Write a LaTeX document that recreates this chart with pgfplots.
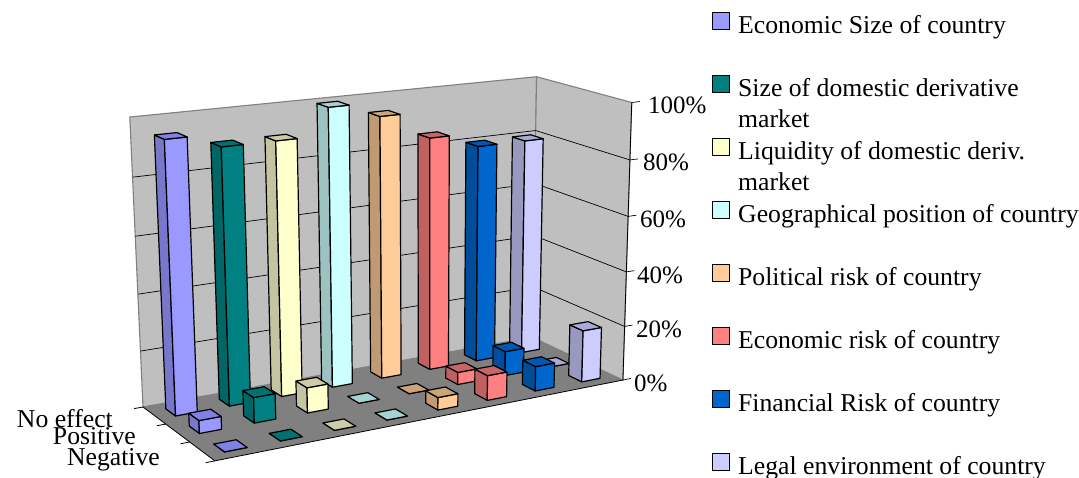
\documentclass[border=0pt]{standalone}
\usepackage{fontspec}
\setmainfont{Liberation Serif}
\usepackage{pgfplots}
\pgfplotsset{compat=1.18}

% Face colours of the eight factors: front, side, top
\definecolor{s1f}{HTML}{9999FF}\definecolor{s1s}{HTML}{7777CC}\definecolor{s1t}{HTML}{8080E6}
\definecolor{s2f}{HTML}{008080}\definecolor{s2s}{HTML}{006666}\definecolor{s2t}{HTML}{007070}
\definecolor{s3f}{HTML}{FFFFCC}\definecolor{s3s}{HTML}{C4C4A0}\definecolor{s3t}{HTML}{CCCCA6}
\definecolor{s4f}{HTML}{CCFFFF}\definecolor{s4s}{HTML}{9CC2C2}\definecolor{s4t}{HTML}{A6D2D2}
\definecolor{s5f}{HTML}{FFCC99}\definecolor{s5s}{HTML}{C09A73}\definecolor{s5t}{HTML}{CCA37A}
\definecolor{s6f}{HTML}{FF8080}\definecolor{s6s}{HTML}{C06060}\definecolor{s6t}{HTML}{C86666}
\definecolor{s7f}{HTML}{0066CC}\definecolor{s7s}{HTML}{004D99}\definecolor{s7t}{HTML}{0058B0}
\definecolor{s8f}{HTML}{CCCCFF}\definecolor{s8s}{HTML}{9999C0}\definecolor{s8t}{HTML}{AAAAD8}

% One column: #1 factor index, #2 row (0 back .. 2 front), #3 percentage, #4 colour prefix
\newcommand{\barx}[3]{px((#1+0.5+(2*\thisrow{a}-1)*0.2)/8,(#2+0.5+(2*\thisrow{b}-1)*0.21)/3,#3*\thisrow{c})}
\newcommand{\bary}[3]{py((#1+0.5+(2*\thisrow{a}-1)*0.2)/8,(#2+0.5+(2*\thisrow{b}-1)*0.21)/3,#3*\thisrow{c})}
\newcommand{\barcolumn}[4]{%
  \addplot[forget plot,draw=black,line width=1.2pt,line join=round,fill=#4s]
    table[row sep=\\,x expr={\barx{#1}{#2}{#3}},y expr={\bary{#1}{#2}{#3}}]
    {a b c\\0 0 0\\0 1 0\\0 1 1\\0 0 1\\} -- cycle;
  \addplot[forget plot,draw=black,line width=1.2pt,line join=round,fill=#4f]
    table[row sep=\\,x expr={\barx{#1}{#2}{#3}},y expr={\bary{#1}{#2}{#3}}]
    {a b c\\0 1 0\\1 1 0\\1 1 1\\0 1 1\\} -- cycle;
  \addplot[forget plot,draw=black,line width=1.2pt,line join=round,fill=#4t]
    table[row sep=\\,x expr={\barx{#1}{#2}{#3}},y expr={\bary{#1}{#2}{#3}}]
    {a b c\\0 0 1\\1 0 1\\1 1 1\\0 1 1\\} -- cycle;
}
% A line or polygon given in chart coordinates (u across, v in depth, w percentage)
\newcommand{\chartpath}[2]{%
  \addplot[forget plot,#1]
    table[row sep=\\,x expr={px(\thisrow{u},\thisrow{v},\thisrow{w})},y expr={py(\thisrow{u},\thisrow{v},\thisrow{w})}]
    {u v w\\#2};
}
\newcommand{\gridlevel}[1]{%
  \chartpath{draw=black,line width=0.7pt}{0 0 #1\\1 0 #1\\1 1 #1\\1.022 1 #1\\}
}
% Legend text hangs from the line of its swatch, whatever the number of lines
\newcommand{\legendtext}[1]{\hspace{8pt}\smash{\raisebox{-2pt}{\parbox[t]{345pt}{#1}}}}

\begin{document}
\begin{tikzpicture}
\useasboundingbox (0,0) rectangle (1079pt,477pt);
\begin{axis}[
  at={(0,0)},anchor=south west,
  scale only axis,width=1079pt,height=477pt,
  xmin=0,xmax=1079,ymin=0,ymax=477,y dir=reverse,
  hide axis,clip=false,
  declare function={
    den(\p,\q,\r)=1+0.12*\p-0.073*\q-0.000447*\r;
    px(\p,\q,\r)=(143+453*\p+56.2*\q-0.19*\r)/den(\p,\q,\r);
    py(\p,\q,\r)=(407-29.3*\p+20.2*\q-2.952*\r)/den(\p,\q,\r);
  },
  legend image code/.code={\draw[#1,draw=black,line width=1.2pt] (0pt,3pt) rectangle (17pt,20pt);},
  legend style={
    at={(axis cs:712,12)},anchor=north west,draw=none,fill=none,inner sep=0pt,outer sep=0pt,
    font=\fontsize{25.7}{31}\selectfont,
    nodes={inner sep=0pt,outer sep=0pt},
    row sep=41.6pt,
  },
  legend cell align=left,
]
% walls and floor
\chartpath{fill=black!25,draw=black!50,line width=1.1pt}{0 0 0\\1 0 0\\1 0 100\\0 0 100\\0 0 0\\}
\chartpath{fill=black!25,draw=black!50,line width=1.1pt}{1 0 0\\1 1 0\\1 1 100\\1 0 100\\1 0 0\\}
\chartpath{fill=black!50,draw=none}{0 0 0\\1 0 0\\1 1 0\\0 1 0\\0 0 0\\}
\gridlevel{20}\gridlevel{40}\gridlevel{60}\gridlevel{80}
\chartpath{draw=black,line width=0.7pt}{1 1 100\\1.022 1 100\\}
\chartpath{draw=black,line width=0.7pt}{1 1 0\\1.022 1 0\\}
% axis edges and depth ticks
\chartpath{draw=black,line width=0.8pt}{-0.02 0 0\\0 0 0\\0 1 0\\1 1 0\\1 1 100\\}
\chartpath{draw=black,line width=0.8pt}{-0.02 0.3333 0\\0 0.3333 0\\}
\chartpath{draw=black,line width=0.8pt}{-0.02 0.6667 0\\0 0.6667 0\\}
\chartpath{draw=black,line width=0.8pt}{-0.02 1 0\\0 1 0\\}

% row "No effect"
\barcolumn{7}{0}{80}{s8}
\barcolumn{6}{0}{80}{s7}
\barcolumn{5}{0}{85}{s6}
\barcolumn{4}{0}{94.5}{s5}
\barcolumn{3}{0}{99.5}{s4}
\barcolumn{2}{0}{90}{s3}
\barcolumn{1}{0}{90}{s2}
\barcolumn{0}{0}{94.5}{s1}
% row "Positive"
\barcolumn{7}{1}{0}{s8}
\barcolumn{6}{1}{9}{s7}
\barcolumn{5}{1}{4.5}{s6}
\barcolumn{4}{1}{0}{s5}
\barcolumn{3}{1}{0}{s4}
\barcolumn{2}{1}{9}{s3}
\barcolumn{1}{1}{9}{s2}
\barcolumn{0}{1}{4.5}{s1}
% row "Negative"
\barcolumn{7}{2}{19}{s8}
\barcolumn{6}{2}{9}{s7}
\barcolumn{5}{2}{9}{s6}
\barcolumn{4}{2}{4.5}{s5}
\barcolumn{3}{2}{0}{s4}
\barcolumn{2}{2}{0}{s3}
\barcolumn{1}{2}{0}{s2}
\barcolumn{0}{2}{0}{s1}

% percentage scale
\begin{scope}[every node/.style={anchor=base west,inner sep=0pt,font=\fontsize{25}{30}\selectfont}]
\node at (axis cs:648,113) {100\%};
\node at (axis cs:643,170) {80\%};
\node at (axis cs:640,227) {60\%};
\node at (axis cs:637,283) {40\%};
\node at (axis cs:636,337) {20\%};
\node at (axis cs:634,391) {0\%};
\end{scope}
% row names
\begin{scope}[every node/.style={anchor=base east,inner sep=0pt,font=\fontsize{25.7}{30}\selectfont}]
\node at (axis cs:113,427) {No effect};
\node at (axis cs:136,444) {Positive};
\node at (axis cs:160,465) {Negative};
\end{scope}

\addlegendimage{fill=s1f}\addlegendentry{\legendtext{Economic Size of country}}
\addlegendimage{fill=s2f}\addlegendentry{\legendtext{Size of domestic derivative\newline market}}
\addlegendimage{fill=s3f}\addlegendentry{\legendtext{Liquidity of domestic deriv.\newline market}}
\addlegendimage{fill=s4f}\addlegendentry{\legendtext{Geographical position of country}}
\addlegendimage{fill=s5f}\addlegendentry{\legendtext{Political risk of country}}
\addlegendimage{fill=s6f}\addlegendentry{\legendtext{Economic risk of country}}
\addlegendimage{fill=s7f}\addlegendentry{\legendtext{Financial Risk of country}}
\addlegendimage{fill=s8f}\addlegendentry{\legendtext{Legal environment of country}}
\end{axis}
\end{tikzpicture}
\end{document}
